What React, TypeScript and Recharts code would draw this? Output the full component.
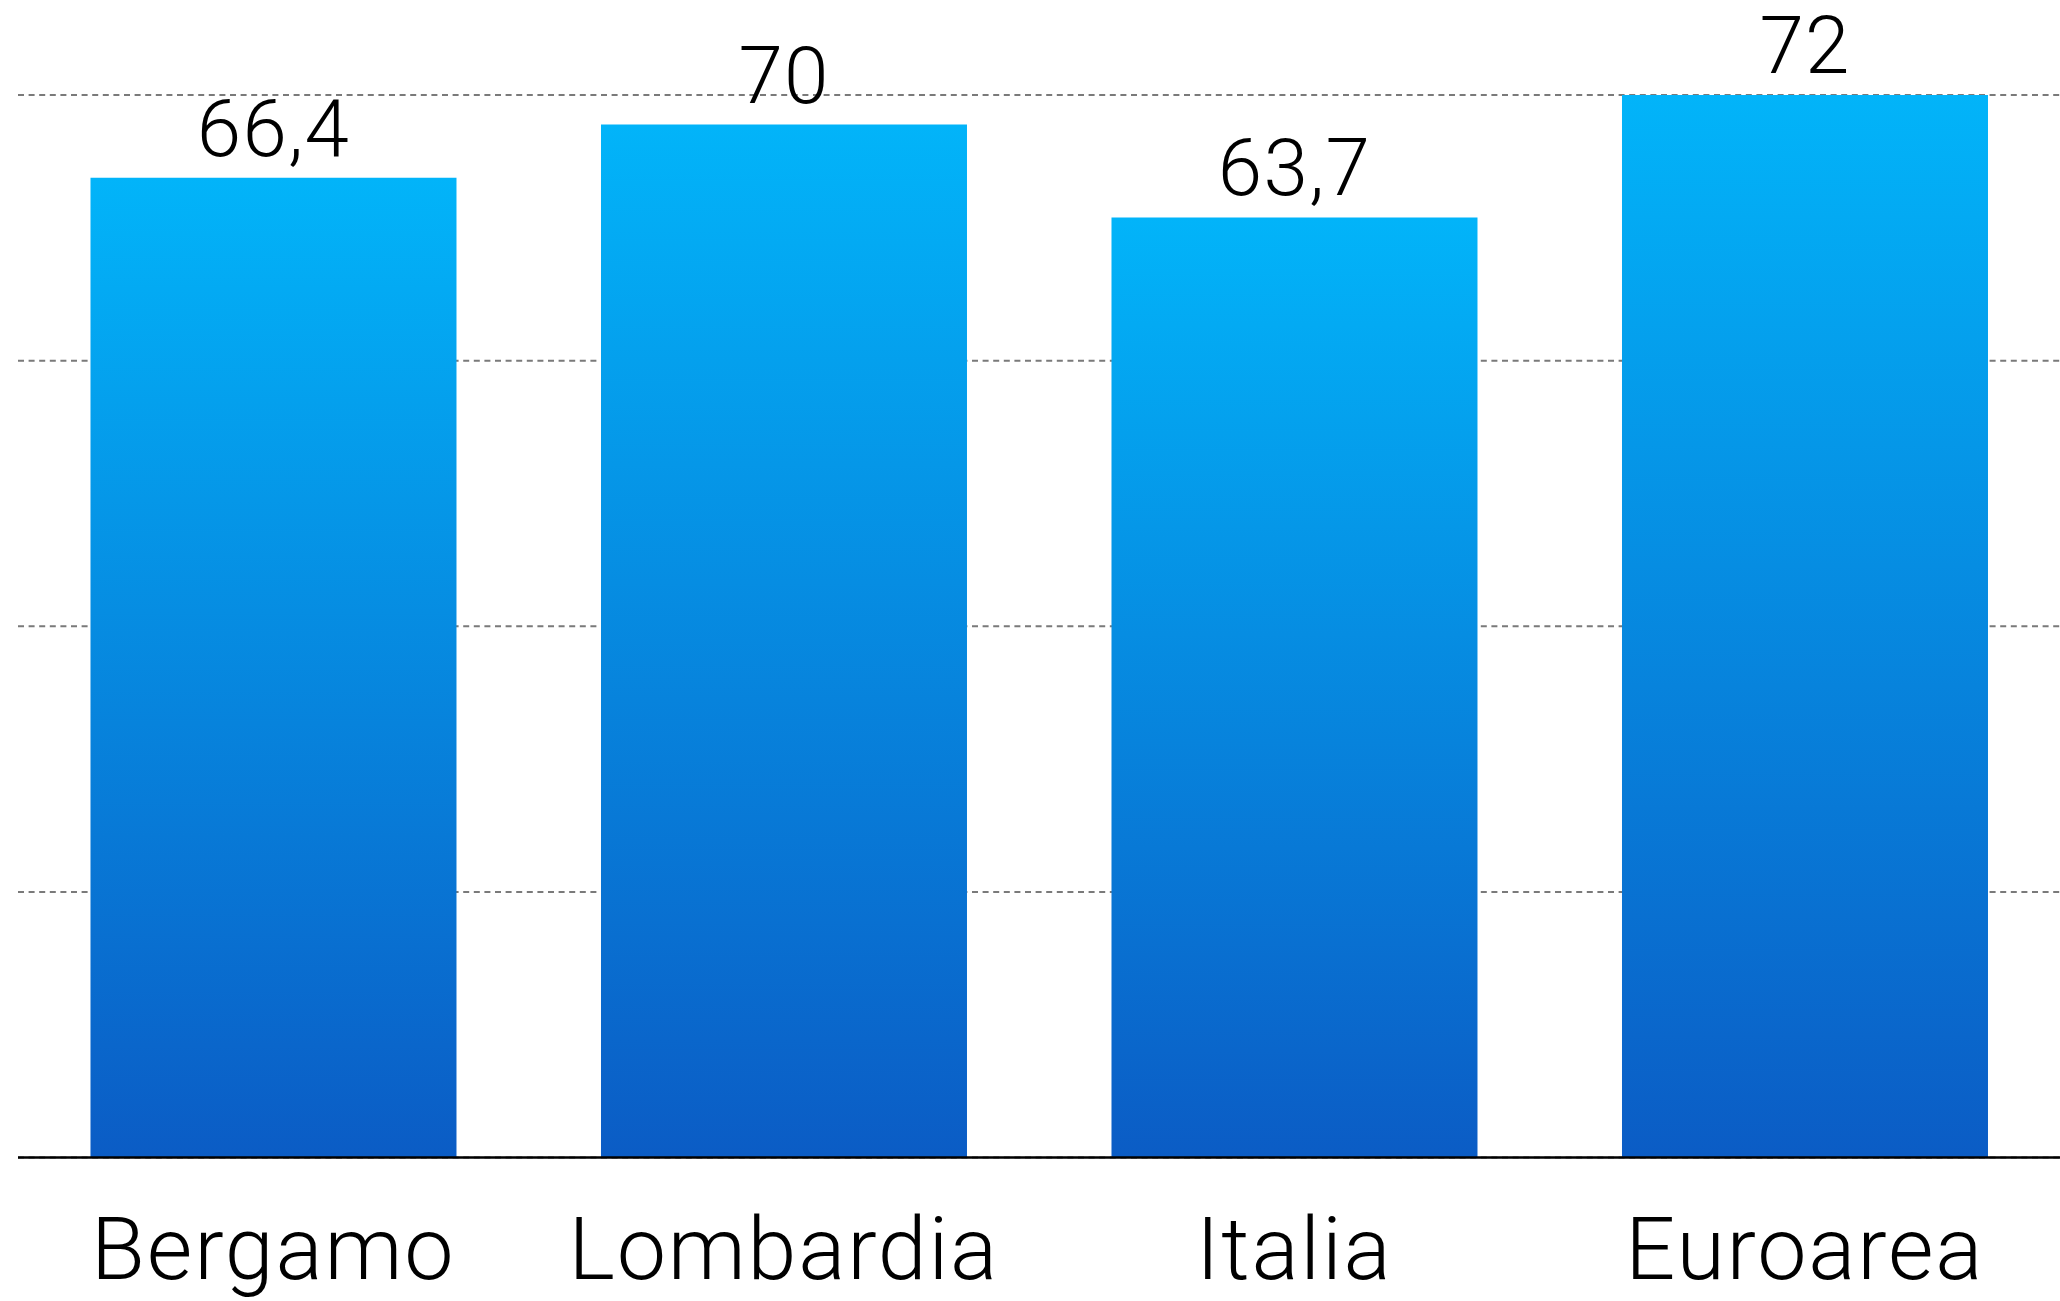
import { Bar, BarChart, CartesianGrid, LabelList, XAxis, YAxis } from "recharts";

const AREAS = ["Bergamo", "Lombardia", "Italia", "Euroarea"];
const RATES = [66.4, 70, 63.7, 72];
const Y_TICKS = [0, 18, 36, 54, 72];

const FONT = "Roboto, 'Liberation Sans', sans-serif";
const BAR_TOP = "#02B4F9";
const BAR_BOTTOM = "#0B5CC5";

/** Italian-style decimals: 66.4 → "66,4". */
function formatRate(v: unknown): string {
  return typeof v === "number" ? String(v).replace(".", ",") : String(v);
}

const chartData = AREAS.map((area, i) => ({ area, rate: RATES[i] }));

export default function App() {
  return (
    <div
      style={{
        position: "absolute",
        left: 0,
        top: 0,
        width: 2060,
        height: 1301,
        background: "#fff",
        fontFamily: FONT,
      }}
    >
      <BarChart
        width={2060}
        height={1301}
        data={chartData}
        margin={{ top: 95, right: 0, bottom: 0, left: 18 }}
        barCategoryGap="14.2%"
      >
        <defs>
          <linearGradient id="barFill" x1="0" y1="0" x2="0" y2="1">
            <stop offset="0%" stopColor={BAR_TOP} />
            <stop offset="100%" stopColor={BAR_BOTTOM} />
          </linearGradient>
        </defs>
        <CartesianGrid
          vertical={false}
          stroke="#7a7a7a"
          strokeWidth={2}
          strokeDasharray="6 4.6"
        />
        <XAxis
          dataKey="area"
          height={143.5}
          axisLine={{ stroke: "#000", strokeWidth: 2.5 }}
          tickLine={false}
          tickSize={0}
          tickMargin={59}
          interval={0}
          tick={{
            fill: "#000",
            fontSize: 88,
            fontWeight: 300,
            fontFamily: FONT,
            letterSpacing: 1.8,
          }}
        />
        <YAxis hide type="number" domain={[0, 72]} ticks={Y_TICKS} width={0} />
        <Bar dataKey="rate" fill="url(#barFill)" isAnimationActive={false}>
          <LabelList
            dataKey="rate"
            position="top"
            offset={22}
            formatter={formatRate}
            style={{
              fill: "#000",
              fontSize: 80,
              fontWeight: 300,
              fontFamily: FONT,
              letterSpacing: 1.2,
            }}
          />
        </Bar>
      </BarChart>
    </div>
  );
}
